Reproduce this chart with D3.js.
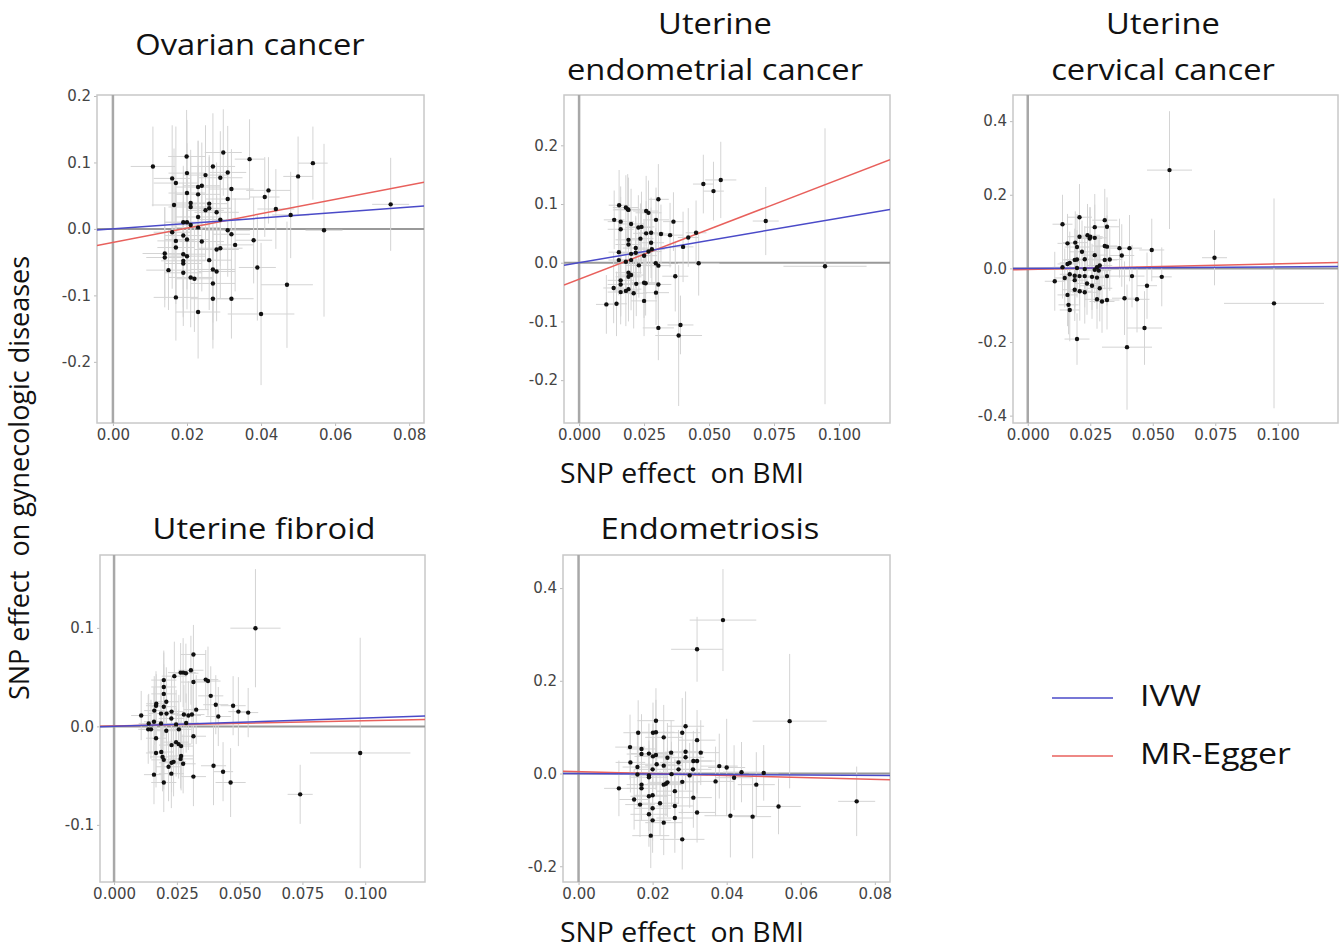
<!DOCTYPE html>
<html>
<head>
<meta charset="utf-8">
<script src="https://cdn.jsdelivr.net/npm/d3@7"></script>
<style>
  body { margin: 0; background: #fff; }
  .title, .axis-title, .legend-text { font-family: "Open Sans", Lato, sans-serif; fill: #111; }
  .tick text { font-family: "DejaVu Sans", Verdana, sans-serif; font-size: 15px; fill: #444; }
  .tick line { stroke: #bbb; }
</style>
</head>
<body>
<svg id="chart" width="1344" height="951"></svg>
<script>
// panel titles (multi-line)
const titles = [
    ["Ovarian cancer"],
    ["Uterine", "endometrial cancer"],
    ["Uterine", "cervical cancer"],
    ["Uterine fibroid"],
    ["Endometriosis"]
]

// axis ticks per panel
const xTicksA = [0, 0.02, 0.04, 0.06, 0.08]
const xTicksB = [0, 0.025, 0.05, 0.075, 0.1]
const yTicks = [
    [-0.2, -0.1, 0, 0.1, 0.2],
    [-0.2, -0.1, 0, 0.1, 0.2],
    [-0.4, -0.2, 0, 0.2, 0.4],
    [-0.1, 0, 0.1],
    [-0.2, 0, 0.2, 0.4]
]

// axis domains
const xDomains = [[-0.0043, 0.084], [-0.0058, 0.1196], [-0.0059, 0.1241], [-0.0056, 0.1238], [-0.0042, 0.0841]]
const yDomains = [[-0.292, 0.2015], [-0.273, 0.2857], [-0.42, 0.471], [-0.158, 0.174], [-0.234, 0.4714]]

// fitted lines: IVW slope (through origin), MR-Egger intercept + slope
const ivwSlope = [0.41, 0.76, 0.04, 0.085, -0.05]
const eggerIntercept = [-0.0203, -0.028, -0.003, 0.0005, 0.004]
const eggerSlope = [1.08, 1.70, 0.154, 0.053, -0.21]

// SNP points: [beta BMI, beta outcome, se BMI, se outcome]
const ovarian = [
    [0.0108, 0.094, 0.006, 0.060], [0.0199, 0.109, 0.005, 0.070], [0.0298, 0.115, 0.005, 0.065],
    [0.0369, 0.105, 0.004, 0.060], [0.054, 0.099, 0.004, 0.055], [0.050, 0.079, 0.004, 0.060],
    [0.027, 0.094, 0.006, 0.080], [0.020, 0.084, 0.005, 0.080], [0.031, 0.085, 0.005, 0.070],
    [0.025, 0.081, 0.006, 0.075], [0.029, 0.077, 0.006, 0.070], [0.016, 0.076, 0.005, 0.080],
    [0.017, 0.069, 0.006, 0.085], [0.024, 0.065, 0.005, 0.065], [0.023, 0.063, 0.006, 0.070],
    [0.032, 0.060, 0.006, 0.060], [0.042, 0.058, 0.006, 0.050], [0.020, 0.054, 0.005, 0.075],
    [0.023, 0.052, 0.006, 0.080], [0.041, 0.048, 0.004, 0.060], [0.031, 0.045, 0.006, 0.070],
    [0.0165, 0.036, 0.006, 0.085], [0.021, 0.039, 0.005, 0.080], [0.021, 0.033, 0.006, 0.075],
    [0.026, 0.038, 0.005, 0.070], [0.026, 0.031, 0.006, 0.080], [0.025, 0.028, 0.005, 0.075],
    [0.044, 0.030, 0.005, 0.060], [0.075, 0.037, 0.005, 0.070], [0.023, 0.018, 0.006, 0.080],
    [0.028, 0.025, 0.006, 0.075], [0.048, 0.021, 0.005, 0.065], [0.029, 0.014, 0.006, 0.070],
    [0.019, 0.010, 0.005, 0.085], [0.020, 0.010, 0.006, 0.080], [0.021, 0.006, 0.005, 0.075],
    [0.023, 0.002, 0.006, 0.080], [0.031, -0.002, 0.006, 0.070], [0.016, -0.005, 0.005, 0.085],
    [0.032, -0.008, 0.005, 0.070], [0.057, -0.002, 0.005, 0.130], [0.019, -0.010, 0.005, 0.080],
    [0.020, -0.016, 0.006, 0.075], [0.017, -0.018, 0.005, 0.085], [0.024, -0.019, 0.006, 0.075],
    [0.038, -0.017, 0.005, 0.065], [0.033, -0.024, 0.005, 0.070], [0.029, -0.029, 0.006, 0.075],
    [0.028, -0.031, 0.006, 0.080], [0.017, -0.028, 0.005, 0.085], [0.014, -0.037, 0.006, 0.070],
    [0.014, -0.043, 0.005, 0.075], [0.019, -0.038, 0.006, 0.080], [0.020, -0.041, 0.005, 0.080],
    [0.026, -0.047, 0.006, 0.075], [0.019, -0.048, 0.006, 0.085], [0.019, -0.052, 0.005, 0.080],
    [0.039, -0.058, 0.005, 0.080], [0.015, -0.062, 0.006, 0.060], [0.027, -0.061, 0.006, 0.080],
    [0.028, -0.064, 0.005, 0.075], [0.019, -0.066, 0.005, 0.080], [0.021, -0.073, 0.006, 0.075],
    [0.022, -0.075, 0.005, 0.080], [0.027, -0.082, 0.006, 0.085], [0.047, -0.084, 0.007, 0.095],
    [0.017, -0.103, 0.006, 0.065], [0.027, -0.105, 0.006, 0.075], [0.032, -0.105, 0.006, 0.060],
    [0.023, -0.125, 0.006, 0.070], [0.040, -0.128, 0.009, 0.107]
]

const endometrial = [
    [0.0154, 0.098, 0.004, 0.060], [0.018, 0.094, 0.005, 0.055], [0.0187, 0.091, 0.005, 0.060],
    [0.019, 0.090, 0.006, 0.055], [0.0305, 0.108, 0.004, 0.060], [0.0478, 0.134, 0.004, 0.050],
    [0.0545, 0.141, 0.006, 0.065], [0.0517, 0.122, 0.004, 0.050], [0.0258, 0.088, 0.005, 0.060],
    [0.0267, 0.085, 0.005, 0.055], [0.0135, 0.073, 0.004, 0.050], [0.016, 0.070, 0.005, 0.060],
    [0.0296, 0.073, 0.005, 0.055], [0.0363, 0.070, 0.004, 0.050], [0.0718, 0.071, 0.005, 0.058],
    [0.020, 0.066, 0.005, 0.060], [0.0228, 0.060, 0.005, 0.055], [0.024, 0.061, 0.005, 0.060],
    [0.016, 0.057, 0.005, 0.055], [0.0236, 0.041, 0.005, 0.060], [0.0258, 0.050, 0.005, 0.055],
    [0.0277, 0.051, 0.005, 0.060], [0.0315, 0.049, 0.005, 0.050], [0.035, 0.047, 0.005, 0.055],
    [0.045, 0.051, 0.004, 0.055], [0.042, 0.043, 0.004, 0.050], [0.040, 0.027, 0.004, 0.060],
    [0.019, 0.039, 0.005, 0.060], [0.019, 0.031, 0.005, 0.055], [0.0277, 0.034, 0.005, 0.060],
    [0.0218, 0.025, 0.005, 0.055], [0.0218, 0.017, 0.005, 0.060], [0.020, 0.015, 0.005, 0.055],
    [0.025, 0.012, 0.005, 0.060], [0.0267, 0.019, 0.005, 0.055], [0.028, 0.023, 0.005, 0.060],
    [0.0153, 0.018, 0.004, 0.055], [0.0153, 0.0045, 0.004, 0.060], [0.018, 0.0017, 0.005, 0.055],
    [0.020, 0.0045, 0.005, 0.060], [0.023, -0.0045, 0.005, 0.055], [0.0295, -0.001, 0.005, 0.060],
    [0.0305, -0.005, 0.005, 0.055], [0.046, -0.001, 0.008, 0.055], [0.0946, -0.006, 0.016, 0.235],
    [0.037, -0.023, 0.005, 0.060], [0.019, -0.017, 0.005, 0.055], [0.020, -0.021, 0.005, 0.060],
    [0.019, -0.024, 0.005, 0.055], [0.016, -0.030, 0.005, 0.060], [0.016, -0.037, 0.005, 0.055],
    [0.0133, -0.043, 0.004, 0.060], [0.022, -0.036, 0.005, 0.055], [0.025, -0.034, 0.005, 0.060],
    [0.0256, -0.035, 0.005, 0.055], [0.0305, -0.037, 0.005, 0.060], [0.019, -0.045, 0.005, 0.055],
    [0.018, -0.048, 0.005, 0.060], [0.016, -0.050, 0.005, 0.055], [0.021, -0.052, 0.005, 0.060],
    [0.0296, -0.051, 0.005, 0.055], [0.025, -0.065, 0.005, 0.060], [0.0105, -0.071, 0.004, 0.050],
    [0.0144, -0.070, 0.004, 0.055], [0.0305, -0.111, 0.006, 0.055], [0.039, -0.106, 0.005, 0.050],
    [0.0383, -0.124, 0.009, 0.120]
]

const cervical = [
    [0.0567, 0.267, 0.009, 0.160], [0.0139, 0.120, 0.004, 0.080], [0.0207, 0.139, 0.005, 0.090],
    [0.0308, 0.131, 0.005, 0.085], [0.0317, 0.113, 0.005, 0.080], [0.0268, 0.112, 0.004, 0.090],
    [0.0239, 0.090, 0.005, 0.085], [0.025, 0.086, 0.005, 0.080], [0.0207, 0.086, 0.005, 0.090],
    [0.0248, 0.081, 0.005, 0.085], [0.0268, 0.083, 0.005, 0.090], [0.0159, 0.068, 0.004, 0.080],
    [0.019, 0.070, 0.005, 0.085], [0.0197, 0.058, 0.005, 0.090], [0.0217, 0.045, 0.005, 0.085],
    [0.0308, 0.061, 0.005, 0.080], [0.0317, 0.059, 0.005, 0.085], [0.0367, 0.055, 0.005, 0.080],
    [0.0407, 0.055, 0.005, 0.090], [0.0496, 0.050, 0.005, 0.085], [0.0268, 0.036, 0.005, 0.090],
    [0.0376, 0.035, 0.005, 0.085], [0.0308, 0.023, 0.005, 0.080], [0.0328, 0.024, 0.005, 0.085],
    [0.0228, 0.025, 0.005, 0.090], [0.0188, 0.023, 0.005, 0.085], [0.0197, 0.024, 0.005, 0.080],
    [0.0168, 0.015, 0.004, 0.085], [0.0159, 0.012, 0.004, 0.090], [0.0139, 0.003, 0.004, 0.085],
    [0.0747, 0.029, 0.005, 0.075], [0.0288, 0.008, 0.005, 0.080], [0.0277, 0.003, 0.005, 0.085],
    [0.0268, -0.004, 0.005, 0.090], [0.0284, -0.006, 0.005, 0.085], [0.0197, 0.001, 0.005, 0.080],
    [0.0228, -0.002, 0.005, 0.085], [0.0148, -0.026, 0.004, 0.080], [0.0168, -0.016, 0.004, 0.085],
    [0.0188, -0.032, 0.005, 0.090], [0.0188, -0.020, 0.005, 0.085], [0.0207, -0.021, 0.005, 0.080],
    [0.0228, -0.021, 0.005, 0.085], [0.0257, -0.023, 0.005, 0.090], [0.0277, -0.025, 0.005, 0.085],
    [0.0317, -0.021, 0.005, 0.080], [0.0417, -0.021, 0.005, 0.085], [0.0536, -0.023, 0.004, 0.080],
    [0.0108, -0.035, 0.004, 0.080], [0.0237, -0.041, 0.005, 0.085], [0.0257, -0.047, 0.005, 0.090],
    [0.0188, -0.058, 0.005, 0.085], [0.0208, -0.062, 0.005, 0.080], [0.0228, -0.065, 0.005, 0.085],
    [0.0288, -0.054, 0.005, 0.090], [0.0477, -0.047, 0.004, 0.090], [0.0159, -0.072, 0.004, 0.085],
    [0.0277, -0.084, 0.005, 0.080], [0.0297, -0.090, 0.005, 0.085], [0.0317, -0.086, 0.005, 0.080],
    [0.0387, -0.081, 0.005, 0.100], [0.0437, -0.084, 0.005, 0.090], [0.0985, -0.095, 0.020, 0.285],
    [0.0163, -0.099, 0.004, 0.080], [0.0168, -0.113, 0.004, 0.085], [0.0467, -0.162, 0.007, 0.100],
    [0.0197, -0.192, 0.005, 0.070], [0.0397, -0.214, 0.010, 0.170]
]

const fibroid = [
    [0.0563, 0.0997, 0.010, 0.060], [0.0316, 0.073, 0.005, 0.030], [0.0306, 0.057, 0.005, 0.035],
    [0.0265, 0.0546, 0.005, 0.030], [0.0275, 0.0546, 0.005, 0.035], [0.0286, 0.054, 0.005, 0.030],
    [0.024, 0.051, 0.005, 0.035], [0.0316, 0.045, 0.005, 0.030], [0.0365, 0.0475, 0.005, 0.030],
    [0.0374, 0.046, 0.005, 0.035], [0.0198, 0.047, 0.005, 0.030], [0.0198, 0.040, 0.005, 0.035],
    [0.0198, 0.033, 0.005, 0.030], [0.0385, 0.031, 0.005, 0.030], [0.0208, 0.025, 0.005, 0.035],
    [0.0168, 0.023, 0.004, 0.030], [0.0167, 0.021, 0.004, 0.035], [0.0198, 0.020, 0.005, 0.030],
    [0.016, 0.016, 0.004, 0.035], [0.0405, 0.022, 0.005, 0.030], [0.0474, 0.021, 0.005, 0.030],
    [0.0495, 0.015, 0.004, 0.035], [0.0534, 0.014, 0.004, 0.025], [0.0415, 0.010, 0.005, 0.030],
    [0.0327, 0.017, 0.005, 0.035], [0.031, 0.012, 0.005, 0.030], [0.0296, 0.011, 0.005, 0.035],
    [0.0278, 0.012, 0.005, 0.030], [0.0187, 0.013, 0.005, 0.035], [0.0209, 0.013, 0.005, 0.030],
    [0.0229, 0.015, 0.005, 0.035], [0.0228, 0.008, 0.005, 0.030], [0.0108, 0.011, 0.004, 0.025],
    [0.0138, 0.003, 0.004, 0.030], [0.0136, -0.003, 0.004, 0.035], [0.0147, -0.003, 0.004, 0.030],
    [0.0159, 0.0047, 0.004, 0.035], [0.0187, 0.003, 0.005, 0.030], [0.0247, 0.002, 0.005, 0.035],
    [0.0287, 0.0034, 0.005, 0.030], [0.0258, -0.003, 0.005, 0.035], [0.0208, -0.0044, 0.005, 0.030],
    [0.0167, -0.012, 0.004, 0.035], [0.0316, -0.010, 0.005, 0.030], [0.0247, -0.016, 0.005, 0.035],
    [0.0229, -0.019, 0.005, 0.030], [0.0257, -0.018, 0.005, 0.035], [0.0267, -0.020, 0.005, 0.030],
    [0.0167, -0.027, 0.004, 0.035], [0.0188, -0.026, 0.005, 0.030], [0.0193, -0.031, 0.005, 0.035],
    [0.0198, -0.034, 0.005, 0.030], [0.0267, -0.030, 0.005, 0.035], [0.0265, -0.033, 0.005, 0.030],
    [0.0237, -0.036, 0.005, 0.035], [0.0229, -0.037, 0.005, 0.030], [0.0217, -0.041, 0.005, 0.035],
    [0.0275, -0.038, 0.005, 0.030], [0.0396, -0.040, 0.005, 0.040], [0.0434, -0.046, 0.004, 0.030],
    [0.0159, -0.049, 0.004, 0.030], [0.0228, -0.048, 0.005, 0.035], [0.0316, -0.051, 0.005, 0.030],
    [0.0198, -0.057, 0.005, 0.030], [0.0464, -0.057, 0.006, 0.035], [0.0741, -0.069, 0.005, 0.030],
    [0.098, -0.027, 0.020, 0.117]
]

const endometriosis = [
    [0.039, 0.331, 0.009, 0.110], [0.032, 0.268, 0.007, 0.070], [0.057, 0.113, 0.010, 0.145],
    [0.0209, 0.114, 0.005, 0.070], [0.0289, 0.102, 0.005, 0.075], [0.0161, 0.088, 0.004, 0.070],
    [0.0201, 0.088, 0.005, 0.065], [0.0209, 0.089, 0.005, 0.070], [0.028, 0.088, 0.005, 0.075],
    [0.023, 0.078, 0.005, 0.070], [0.032, 0.072, 0.005, 0.065], [0.0139, 0.057, 0.004, 0.070],
    [0.017, 0.053, 0.004, 0.075], [0.017, 0.042, 0.004, 0.070], [0.019, 0.043, 0.005, 0.065],
    [0.0201, 0.037, 0.005, 0.070], [0.0209, 0.040, 0.005, 0.075], [0.025, 0.045, 0.005, 0.070],
    [0.0289, 0.047, 0.005, 0.065], [0.033, 0.045, 0.005, 0.070], [0.024, 0.034, 0.005, 0.075],
    [0.0289, 0.035, 0.005, 0.070], [0.014, 0.024, 0.004, 0.065], [0.0211, 0.020, 0.005, 0.070],
    [0.023, 0.017, 0.005, 0.075], [0.027, 0.024, 0.005, 0.070], [0.031, 0.027, 0.005, 0.065],
    [0.032, 0.027, 0.005, 0.070], [0.027, 0.009, 0.005, 0.075], [0.020, 0.009, 0.005, 0.070],
    [0.0309, 0.009, 0.005, 0.065], [0.0159, 0.014, 0.004, 0.070], [0.038, 0.016, 0.005, 0.070],
    [0.040, 0.013, 0.005, 0.105], [0.044, 0.003, 0.005, 0.065], [0.050, 0.0014, 0.004, 0.060],
    [0.0159, -0.002, 0.004, 0.070], [0.019, -0.004, 0.005, 0.075], [0.019, -0.008, 0.005, 0.070],
    [0.0251, -0.0014, 0.005, 0.070], [0.030, -0.004, 0.005, 0.070], [0.042, -0.009, 0.005, 0.070],
    [0.037, -0.017, 0.005, 0.075], [0.028, -0.018, 0.005, 0.070], [0.024, -0.019, 0.005, 0.075],
    [0.023, -0.024, 0.005, 0.070], [0.0236, -0.022, 0.005, 0.070], [0.048, -0.024, 0.005, 0.070],
    [0.017, -0.024, 0.004, 0.075], [0.017, -0.032, 0.004, 0.070], [0.0109, -0.032, 0.004, 0.060],
    [0.026, -0.038, 0.005, 0.070], [0.022, -0.064, 0.005, 0.070], [0.015, -0.056, 0.004, 0.065],
    [0.0166, -0.067, 0.004, 0.070], [0.019, -0.049, 0.005, 0.075], [0.020, -0.047, 0.005, 0.070],
    [0.026, -0.070, 0.005, 0.070], [0.031, -0.052, 0.005, 0.065], [0.054, -0.071, 0.006, 0.060],
    [0.0751, -0.060, 0.005, 0.075], [0.020, -0.075, 0.005, 0.070], [0.032, -0.084, 0.005, 0.065],
    [0.019, -0.088, 0.005, 0.070], [0.041, -0.091, 0.007, 0.090], [0.047, -0.093, 0.005, 0.090],
    [0.026, -0.096, 0.005, 0.075], [0.020, -0.101, 0.005, 0.070], [0.023, -0.106, 0.005, 0.070],
    [0.0195, -0.134, 0.005, 0.070], [0.028, -0.142, 0.006, 0.065]
]

const panelData = [ovarian, endometrial, cervical, fibroid, endometriosis]

const legendLabels = ["IVW", "MR-Egger"]
const lineColours = ["#4a4ac8", "#e8605c"]

// panel boxes on the page (left, top, right, bottom) and title centres
const boxes = [
    [97, 95, 424, 423],
    [564, 95, 890, 423],
    [1013, 95, 1338, 423],
    [100, 555, 425, 882],
    [563, 555, 890, 882]
]
const titleX = [250, 715, 1163, 264, 710]

const svg = d3.select("#chart")
const hyphen = f => d => f(d).replace("\u2212", "-")

// the reference text is a little wider than the fonts we have, so stretch it sideways
function stretchedText(sel, x, y, size, sx, s) {
    return sel.append("text")
        .attr("transform", `translate(${x},${y}) scale(${sx},1)`)
        .attr("dominant-baseline", "middle")
        .attr("font-size", size).attr("xml:space", "preserve").text(s)
}

panelData.forEach((pts, i) => {
    const [l, t, r, b] = boxes[i]
    const x = d3.scaleLinear().domain(xDomains[i]).range([l, r])
    const y = d3.scaleLinear().domain(yDomains[i]).range([b, t])
    const xTicks = (i == 0 || i == 4) ? xTicksA : xTicksB
    const xFmt = (i == 0 || i == 4) ? d3.format(".2f") : d3.format(".3f")

    const g = svg.append("g")
    const clipId = "clip" + i
    g.append("clipPath").attr("id", clipId)
        .append("rect").attr("x", l).attr("y", t).attr("width", r - l).attr("height", b - t)

    //axes
    g.append("g").attr("transform", `translate(0,${b})`)
        .call(d3.axisBottom(x).tickValues(xTicks).tickFormat(xFmt).tickSize(3).tickPadding(3))
        .call(a => a.select(".domain").remove())
    g.append("g").attr("transform", `translate(${l},0)`)
        .call(d3.axisLeft(y).tickValues(yTicks[i]).tickFormat(hyphen(d3.format(".1f"))).tickSize(3).tickPadding(3))
        .call(a => a.select(".domain").remove())

    //panel border
    g.append("rect")
        .attr("x", l).attr("y", t).attr("width", r - l).attr("height", b - t)
        .attr("fill", "none").attr("stroke", "#c8c8c8").attr("stroke-width", 1.5)

    const inner = g.append("g").attr("clip-path", `url(#${clipId})`)

    //zero lines
    inner.append("line")
        .attr("x1", x(0)).attr("x2", x(0)).attr("y1", t).attr("y2", b)
        .attr("stroke", "#a8a8a8").attr("stroke-width", 2.5)
    inner.append("line")
        .attr("x1", l).attr("x2", r).attr("y1", y(0)).attr("y2", y(0))
        .attr("stroke", "#999").attr("stroke-width", 2)

    //error bars
    inner.append("g").selectAll("line.h")
        .data(pts).enter().append("line")
        .attr("x1", d => x(d[0] - d[2])).attr("x2", d => x(d[0] + d[2]))
        .attr("y1", d => y(d[1])).attr("y2", d => y(d[1]))
        .attr("stroke", "#d4d4d4").attr("stroke-width", 1)
    inner.append("g").selectAll("line.v")
        .data(pts).enter().append("line")
        .attr("x1", d => x(d[0])).attr("x2", d => x(d[0]))
        .attr("y1", d => y(d[1] - d[3])).attr("y2", d => y(d[1] + d[3]))
        .attr("stroke", "#d4d4d4").attr("stroke-width", 1)

    //fit lines
    const [x0, x1] = xDomains[i]
    inner.append("line")
        .attr("x1", x(x0)).attr("x2", x(x1))
        .attr("y1", y(eggerIntercept[i] + eggerSlope[i] * x0)).attr("y2", y(eggerIntercept[i] + eggerSlope[i] * x1))
        .attr("stroke", lineColours[1]).attr("stroke-width", 1.5)
    inner.append("line")
        .attr("x1", x(x0)).attr("x2", x(x1))
        .attr("y1", y(ivwSlope[i] * x0)).attr("y2", y(ivwSlope[i] * x1))
        .attr("stroke", lineColours[0]).attr("stroke-width", 1.5)

    //points
    inner.append("g").selectAll("circle")
        .data(pts).enter().append("circle")
        .attr("cx", d => x(d[0])).attr("cy", d => y(d[1]))
        .attr("r", 2.2).attr("fill", "#111")

    //title
    const lines = titles[i]
    let t0
    if (lines.length == 2) t0 = t - 69
    else if (i < 3) t0 = t - 48
    else t0 = t - 24
    lines.forEach((s, k) => {
        stretchedText(g, titleX[i], t0 + k * 46, 30, 1.09, s)
            .attr("class", "title").attr("text-anchor", "middle")
    })
})

// shared axis titles
stretchedText(svg, 682, 476, 27, 1.05, "SNP effect  on BMI")
    .attr("class", "axis-title").attr("text-anchor", "middle")
stretchedText(svg, 682, 935, 27, 1.05, "SNP effect  on BMI")
    .attr("class", "axis-title").attr("text-anchor", "middle")
svg.append("text").attr("class", "axis-title")
    .attr("transform", "translate(22,478) rotate(-90)")
    .attr("text-anchor", "middle").attr("dominant-baseline", "middle")
    .attr("font-size", 27).attr("xml:space", "preserve").text("SNP effect  on gynecologic diseases")

// legend
const legend = svg.append("g").selectAll("g")
    .data(legendLabels).enter().append("g")
    .attr("transform", (d, k) => `translate(1052,${698 + k * 58})`)
legend.append("line").attr("x1", 0).attr("x2", 61)
    .attr("stroke", (d, k) => lineColours[k]).attr("stroke-width", 1.5)
legend.each(function (d) {
    stretchedText(d3.select(this), 88, 0, 30, 1.13, d).attr("class", "legend-text")
})
</script>
</body>
</html>
